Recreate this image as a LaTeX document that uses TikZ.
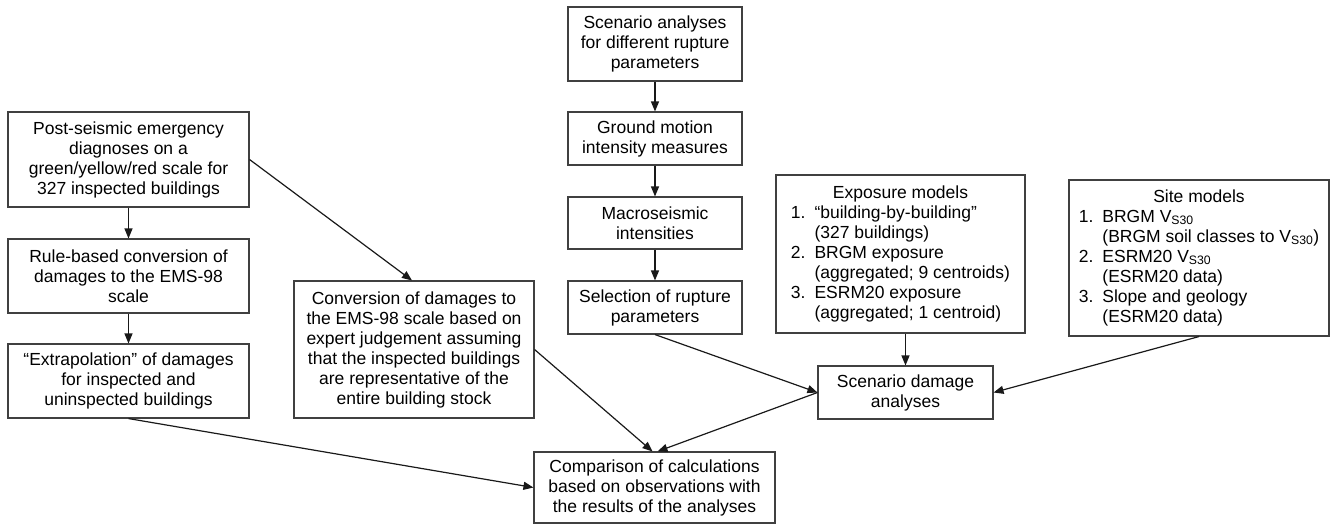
\documentclass[tikz,border=0pt]{standalone}
\usepackage{fontspec}
\setmainfont{Liberation Sans}
\usetikzlibrary{arrows.meta,calc}
\begin{document}
\begin{tikzpicture}[x=1pt,y=-1pt,
 box/.style={draw=black!75,line width=1.1pt,align=center,font=\fontsize{17.5}{20}\selectfont,inner sep=2pt},
 conn/.style={draw=black!90,line width=1.2pt,-{Triangle[length=10pt,width=8pt]}}]
\useasboundingbox (0,0) rectangle (1335,523);
% left column
\node[box,minimum width=241,minimum height=95] (post) at (128.5,159.5)
  {Post-seismic emergency\\diagnoses on a\\green/yellow/red scale for\\327 inspected buildings};
\node[box,minimum width=241,minimum height=74] (rule) at (128.5,276)
  {Rule-based conversion of\\damages to the EMS-98\\scale};
\node[box,minimum width=241,minimum height=74] (extrap) at (128.5,381)
  {“Extrapolation” of damages\\for inspected and\\uninspected buildings};
\node[box,minimum width=240,minimum height=137] (conv) at (414,349.5)
  {Conversion of damages to\\the EMS-98 scale based on\\expert judgement assuming\\that the inspected buildings\\are representative of the\\entire building stock};
% middle column
\node[box,minimum width=174,minimum height=74] (scen) at (655,44)
  {Scenario analyses\\for different rupture\\parameters};
\node[box,minimum width=174,minimum height=53] (ground) at (655,138.5)
  {Ground motion\\intensity measures};
\node[box,minimum width=174,minimum height=52] (macro) at (655,223)
  {Macroseismic\\intensities};
\node[box,minimum width=174,minimum height=53] (select) at (655,307.5)
  {Selection of rupture\\parameters};
% models
\node[box,minimum width=249,minimum height=158] (expo) at (900.5,254)
  {\begin{tabular}{@{}l@{\hspace{9pt}}l@{}}
   \multicolumn{2}{c}{Exposure models}\\
   1. & “building-by-building”\\
      & (327 buildings)\\
   2. & BRGM exposure\\
      & (aggregated; 9 centroids)\\
   3. & ESRM20 exposure\\
      & (aggregated; 1 centroid)
   \end{tabular}};
\node[box,minimum width=260,minimum height=156] (site) at (1199,258)
  {\begin{tabular}{@{}l@{\hspace{9pt}}l@{}}
   \multicolumn{2}{c}{Site models}\\
   1. & BRGM V\textsubscript{S30}\\
      & (BRGM soil classes to V\textsubscript{S30})\\
   2. & ESRM20 V\textsubscript{S30}\\
      & (ESRM20 data)\\
   3. & Slope and geology\\
      & (ESRM20 data)
   \end{tabular}};
\node[box,minimum width=175,minimum height=53] (damage) at (905.5,392.5)
  {Scenario damage\\analyses};
\node[box,minimum width=241,minimum height=71] (comp) at (654.5,487.5)
  {Comparison of calculations\\based on observations with\\the results of the analyses};
% connectors
\draw[conn] (post) -- (rule);
\draw[conn] (rule) -- (extrap);
\draw[conn] (post.east) -- ($(conv.north)+(-2,0)$);
\draw[conn] (extrap.south) -- (comp.west);
\draw[conn] (conv.east) -- ($(comp.north)+(-2,0)$);
\draw[conn] (scen) -- (ground);
\draw[conn] (ground) -- (macro);
\draw[conn] (macro) -- (select);
\draw[conn] (select.south) -- (damage.west);
\draw[conn] (damage.west) -- ($(comp.north)+(3,0)$);
\draw[conn] (expo.south -| damage.north) -- (damage.north);
\draw[conn] (site.south) -- (damage.east);
\end{tikzpicture}
\end{document}
